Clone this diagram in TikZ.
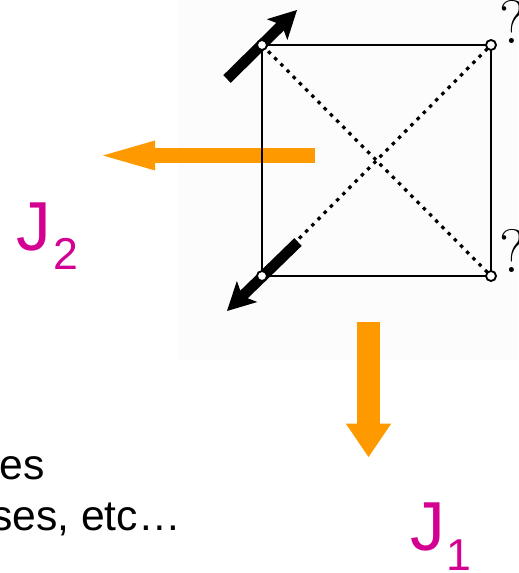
\documentclass[tikz,border=0pt]{standalone}
\usepackage{fontspec}
\newfontfamily\arialfont{Liberation Sans}
\usepackage{xcolor}
\definecolor{naranjaJ}{RGB}{255,153,0}
\definecolor{magentaJ}{RGB}{212,0,146}
\definecolor{fondoCaja}{RGB}{252,252,252}
\usetikzlibrary{arrows.meta}

\begin{document}
\begin{tikzpicture}[x=0.75pt,y=-0.75pt,
  esquina/.style={circle,draw,fill=white,line width=1.4pt,inner sep=0pt,minimum size=7.5pt},
  texto/.style={font=\arialfont\fontsize{32}{38}\selectfont,inner sep=0pt,anchor=base east},
  etiqueta/.style={font=\arialfont\fontsize{52}{60}\selectfont,text=magentaJ,inner sep=0pt,anchor=base west},
  pregunta/.style={font=\fontsize{46}{50}\selectfont,inner sep=0pt,anchor=base west},
  diagonal/.style={line width=2.4pt,dash pattern=on 2.6pt off 4pt},
  flechaNegra/.style={line width=8pt,-{Stealth[length=21pt,width=22pt,inset=5pt,line width=0pt]}}]
  \useasboundingbox (0,0) rectangle (518,573);
  \clip (0,0) rectangle (518,573);
  % Fondo
  \fill[fondoCaja] (178,0) rectangle (518,360);
  % Esquinas del cuadrado
  \coordinate (tl) at (262,45);
  \coordinate (tr) at (491,45);
  \coordinate (bl) at (262,276);
  \coordinate (br) at (491,276);
  % Diagonales
  \draw[diagonal] (tl) -- (br);
  \draw[diagonal] (bl) -- (tr);
  % Flecha J2
  \coordinate (j2ini) at (315,155.5);
  \coordinate (j2fin) at (103,155.5);
  \draw[naranjaJ,line width=11.25pt,-{Triangle[length=39pt,width=22.5pt,line width=0pt]}] (j2ini) -- (j2fin);
  % Lados
  \draw[line width=1.4pt] (tl) -- (tr) -- (br) -- (bl) -- cycle;
  % Flecha J1
  \coordinate (j1ini) at (368.5,322);
  \coordinate (j1fin) at (368.5,457);
  \draw[naranjaJ,line width=17.25pt,-{Triangle[length=25pt,width=34pt,line width=0pt]}] (j1ini) -- (j1fin);
  % Espines
  \coordinate (s1ini) at (227,79);
  \coordinate (s1fin) at (297,10);
  \coordinate (s2ini) at (298,242);
  \coordinate (s2fin) at (227,311);
  \draw[flechaNegra] (s1ini) -- (s1fin);
  \draw[flechaNegra] (s2ini) -- (s2fin);
  \node[esquina] (ctl) at (tl) {};
  \node[esquina] (ctr) at (tr) {};
  \node[esquina] (cbl) at (bl) {};
  \node[esquina] (cbr) at (br) {};
  % Signos
  \node[pregunta] (qtr) at (499,44) {?};
  \node[pregunta] (qbr) at (499,272) {?};
  % Etiquetas
  \node[etiqueta] (J2) at (16,250) {J\kern2pt\raisebox{-14.25pt}{\fontsize{33.5}{36}\selectfont 2}};
  \node[etiqueta] (J1) at (410,550) {J\kern1.5pt\raisebox{-15.5pt}{\fontsize{33.5}{36}\selectfont 1}};
  % Texto
  \node[texto] (linea1) at (45,479) {es};
  \node[texto] (linea2) at (181,530) {ses, etc…};
\end{tikzpicture}
\end{document}
